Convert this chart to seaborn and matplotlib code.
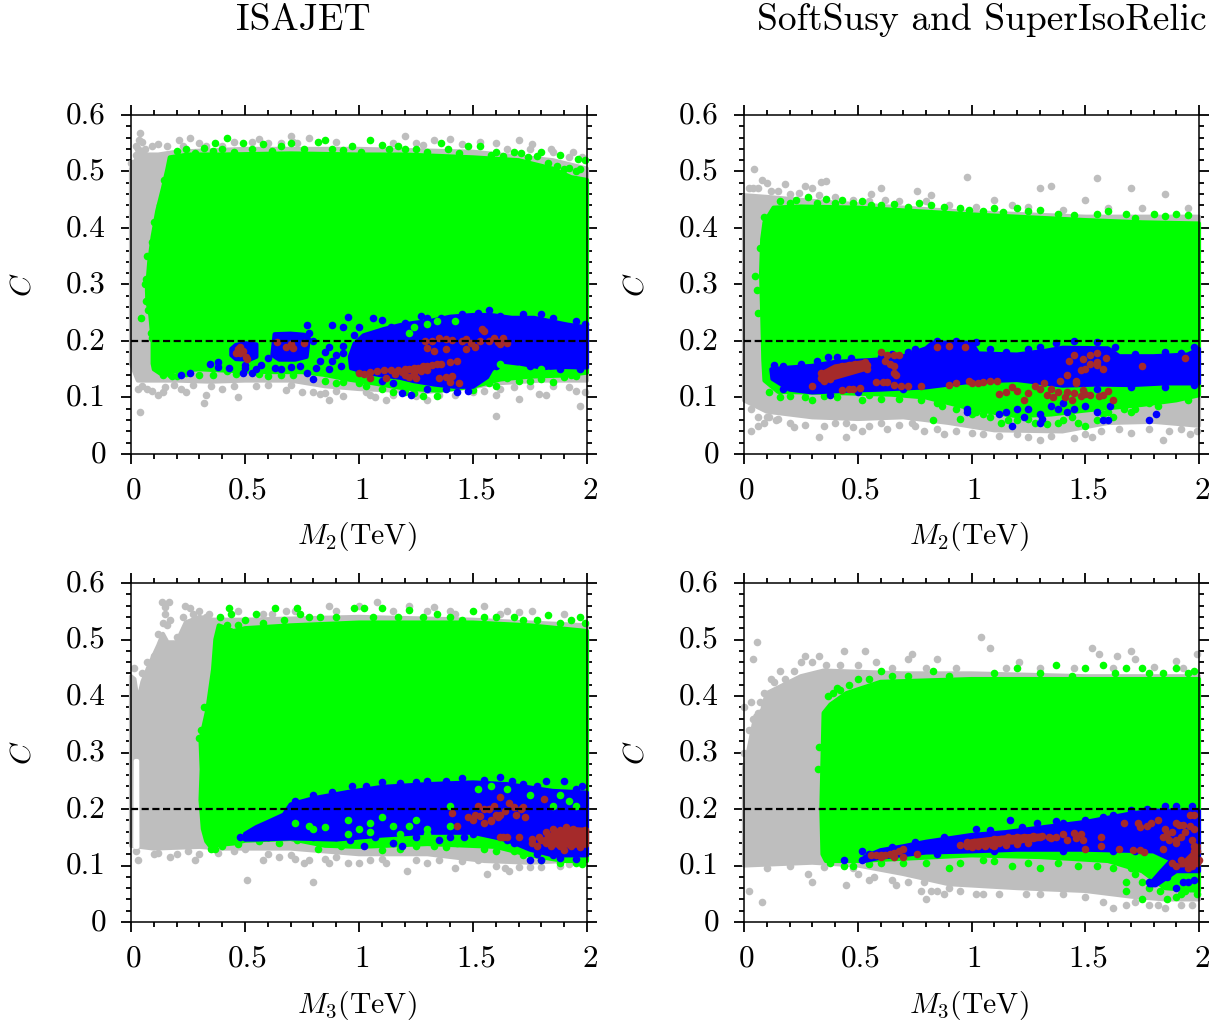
import matplotlib
matplotlib.use("Agg")
import matplotlib.pyplot as plt
from matplotlib.ticker import MultipleLocator
from matplotlib.transforms import ScaledTranslation
import pandas as pd
import seaborn as sns

# ---------- values: envelopes of the dense clouds (M, C) ----------
P1_GRAY = [(0,.16),(.01,.15),(.03,.13),(.1,.13),(.2,.13),(.35,.128),(.5,.13),(.7,.13),(.85,.12),(1.0,.115),(1.3,.11),(1.5,.118),(1.6,.125),(1.8,.13),(2,.13),
           (2,.505),(1.85,.52),(1.5,.535),(1,.54),(.5,.54),(.2,.535),(.12,.53),(.07,.53),(.04,.535),(.02,.52),(.0,.505)]
P1_GREEN = [(.095,.16),(.1,.15),(.13,.142),(.2,.147),(.3,.15),(.45,.147),(.6,.145),(.75,.145),(.85,.14),(.95,.132),(1.05,.126),(1.2,.116),(1.35,.112),(1.5,.119),(1.62,.132),(1.75,.137),(1.9,.139),(2,.144),
            (2,.485),(1.93,.49),(1.85,.505),(1.7,.52),(1.5,.525),(1.2,.53),(1,.53),(.7,.532),(.4,.53),(.25,.53),(.17,.525),
            (.16,.505),(.14,.47),(.115,.43),(.095,.385),(.08,.34),(.07,.29),(.072,.27),(.085,.245),(.095,.2)]
P1_BLUE = [
    [(.44,.175),(.46,.168),(.52,.167),(.55,.172),(.55,.194),(.5,.196),(.46,.193),(.44,.186)],
    [(.62,.175),(.65,.167),(.72,.167),(.77,.172),(.78,.205),(.76,.211),(.7,.213),(.63,.212)],
    [(.96,.172),(.98,.195),(1.02,.21),(1.108,.221),(1.18,.228),(1.24,.232),(1.32,.236),(1.40,.243),(1.5,.246),(1.577,.246),(1.67,.241),(1.767,.241),(1.914,.229),(2,.224),
     (2,.153),(1.9,.154),(1.81,.152),(1.72,.159),(1.62,.164),(1.58,.149),(1.562,.136),(1.5,.119),(1.42,.119),(1.33,.123),(1.24,.129),(1.18,.135),(1.1,.139),(1.035,.144),(.965,.152)],
]
P1_GREEN_EDGE = [(.2,.537),(.24,.54),(.28,.532),(.32,.542),(.36,.536),(.4,.54),(.45,.534),(.53,.54),(.58,.548),(.62,.537),(.66,.546),(.76,.54),(.88,.54),(.93,.538),(.97,.545),(1.01,.535),(1.13,.54),(1.17,.545),(1.25,.54),(1.3,.535),(1.39,.54),(1.44,.532),(1.58,.53),(1.63,.527),(1.74,.525),(1.78,.527),(1.83,.515),(1.87,.51),(1.9,.505),(1.95,.5),(1.97,.505),
                 (.17,.142),(.2,.138),(.24,.143),(.3,.14),(.36,.14),(.42,.147),(.46,.142),(.56,.142),(.6,.138),(.66,.14),(.71,.14),(.85,.13),(.9,.125),(.93,.127),(1.0,.125),(1.03,.12),(1.1,.115),(1.2,.11),(1.24,.108),(1.5,.113),(1.57,.125),(1.7,.13),(1.8,.133),(1.85,.128),(1.95,.138),
                 (.07,.35),(.09,.375),(.1,.41),(.125,.44),(.145,.485),(.06,.3),(.065,.31),(.075,.255),(.088,.215)]
P1_GRAY_EDGE = [(.0,.515),(.02,.53),(.03,.54),(.06,.54),(.09,.545),(.12,.548),(.16,.545),(.23,.545),(.3,.55),(.4,.545),(.45,.552),(.53,.553),(.6,.55),(.73,.55),(.9,.552),(1.15,.55),(1.28,.547),(1.45,.548),(1.65,.54),(1.75,.54),(1.85,.535),(1.92,.525),
                (.03,.115),(.05,.12),(.07,.115),(.09,.112),(.15,.118),(.19,.122),(.22,.115),(.27,.122),(.35,.12),(.4,.115),(.45,.12),(.55,.12),(.6,.122),(.7,.122),(.75,.11),(.8,.11),(.83,.107),(.9,.112),(1.03,.11),(1.15,.105),(1.25,.103),(1.35,.105),(1.42,.105),(1.5,.11),(1.55,.112),(1.62,.115),(1.68,.118),(1.75,.12),(1.85,.12),(1.92,.118)]
P2_GRAY = [(0,.095),(.05,.085),(.1,.075),(.3,.065),(.5,.062),(.7,.065),(.9,.055),(1.1,.042),(1.4,.04),(1.6,.055),(1.8,.057),(2,.05),
           (2,.42),(1.5,.42),(1,.428),(.7,.436),(.3,.448),(.1,.455),(0,.458)]
P2_GREEN = [(.085,.166),(.09,.13),(.15,.11),(.4,.108),(.65,.105),(.8,.1),(.9,.09),(1.0,.08),(1.1,.073),(1.2,.067),(1.35,.07),(1.5,.077),(1.75,.087),(1.9,.095),(2,.104),
            (2,.408),(1.75,.41),(1.5,.414),(1,.424),(.5,.436),(.25,.438),(.13,.436),(.09,.41),(.08,.38),(.075,.32),(.08,.25)]
P2_BLUE = [
    [(.12,.15),(.2,.153),(.3,.156),(.4,.163),(.55,.166),(.68,.17),(.8,.187),(.83,.197),(1.0,.197),(1.03,.178),(1.2,.176),(1.33,.183),(1.4,.188),(1.6,.187),(1.65,.173),(1.8,.173),(1.95,.176),(2,.186),
     (2,.125),(1.85,.125),(1.7,.122),(1.55,.123),(1.4,.121),(1.2,.131),(1.0,.128),(.8,.118),(.6,.114),(.45,.112),(.3,.109),(.2,.114),(.125,.133)],
]
P2_BROWN_BLOBS = [[(.34,.13),(.4,.135),(.53,.15),(.53,.163),(.48,.16),(.4,.155),(.34,.142)]]
P2_GREEN_EDGE = [(.16,.447),(.23,.45),(.32,.445),(.43,.45),(.52,.448),(.6,.44),(.66,.442),(.72,.437),(.77,.445),(.88,.438),(.95,.435),(1.05,.43),(1.1,.435),(1.25,.43),(1.38,.425),(1.45,.423),(1.68,.425),(1.72,.418),(1.85,.422),(1.95,.423),
                 (.11,.11),(.16,.1),(.2,.102),(.35,.102),(.41,.1),(.6,.098),(.68,.098),(.78,.095),(.87,.085),(.93,.08),(1.0,.07),(1.08,.065),(1.16,.06),(1.25,.062),(1.4,.06),(1.44,.065),(1.58,.07),(1.72,.08),(1.82,.085),(1.95,.095)]
P2_GRAY_EDGE = [(.02,.47),(.06,.47),(.12,.465),(.2,.46),(.24,.462),(.33,.458),(.4,.455),(.48,.45),(.55,.448),(.62,.45),(.68,.447),(.8,.447),(.9,.44),(1.02,.437),(1.18,.44),(1.25,.438),(1.4,.432),(1.6,.435),(1.75,.435),(1.95,.435),
                (.03,.08),(.06,.065),(.11,.065),(.14,.06),(.2,.055),(.27,.052),(.35,.05),(.4,.055),(.48,.048),(.55,.05),(.6,.055),(.68,.052),(.74,.055),(.85,.045),(.93,.04),(1.0,.038),(1.05,.035),(1.12,.032),(1.2,.035),(1.35,.032),(1.5,.035),(1.57,.04),(1.65,.045),(1.78,.045),(1.87,.04),(1.92,.045)]
P3_GRAY = [(0,.135),(.1,.13),(.3,.133),(.4,.13),(.7,.13),(1.0,.12),(1.3,.12),(1.55,.108),(1.75,.105),(2,.11),
           (2,.525),(1.5,.535),(1,.54),(.5,.535),(.36,.535),(.3,.54),(.24,.53),(.2,.495),(.16,.495),(.14,.51),(.12,.49),(.08,.455),(.05,.425),(.03,.39),(.015,.43),(0,.435)]
P3_GAP = [(.019,.133),(.028,.133),(.027,.285),(.021,.285)]
P3_GREEN = [(.345,.135),(.33,.143),(.315,.165),(.305,.216),(.31,.27),(.305,.323),(.315,.34),(.335,.376),(.36,.447),(.37,.5),(.385,.525),(.45,.515),(.5,.52),(.7,.525),(1,.53),(1.3,.53),(1.5,.53),(1.75,.525),(2,.515),
            (2,.108),(1.9,.108),(1.75,.118),(1.6,.133),(1.3,.138),(1.0,.133),(.85,.135),(.7,.147),(.5,.144),(.45,.139)]
P3_BLUE = [
    [(.67,.19),(.7,.208),(.8,.219),(.95,.23),(1.1,.239),(1.3,.244),(1.5,.247),(1.65,.244),(1.85,.232),(2,.229),
     (2,.118),(1.85,.118),(1.75,.128),(1.65,.145),(1.5,.158),(1.3,.158),(1.1,.153),(.9,.146),(.7,.148),(.55,.146),(.5,.146),(.5,.156),(.55,.168),(.6,.177)],
]
P3_BROWN_BLOBS = [[(1.8,.142),(1.87,.135),(2,.135),(2,.163),(1.92,.165),(1.86,.16)]]
P3_GREEN_EDGE = [(.39,.54),(.42,.525),(.47,.525),(.5,.535),(.58,.53),(.67,.535),(.78,.54),(.83,.54),(.9,.54),(1.06,.54),(1.17,.54),(1.28,.54),(1.45,.535),(1.6,.54),(1.72,.535),(1.78,.535),(1.88,.53),(1.93,.535),(1.99,.53),
                 (.37,.13),(.4,.135),(.47,.138),(.56,.143),(.65,.14),(.82,.13),(.92,.135),(1.1,.128),(1.18,.13),(1.33,.135),(1.38,.132),(1.55,.13),(1.6,.125),(1.72,.118),(1.8,.11),(1.88,.105)]
P3_GRAY_EDGE = [(.1,.47),(.12,.51),(.14,.53),(.15,.545),(.17,.535),(.16,.525),(.2,.505),(.23,.54),(.25,.53),(.27,.545),(.33,.54),(.07,.46),(.05,.44),(.02,.4),(.015,.45),
                (.47,.55),(.58,.545),(.68,.55),(.9,.55),(1.15,.55),(1.3,.55),(1.42,.545),(1.65,.55),(1.7,.548),(1.9,.545),
                (.02,.125),(.12,.122),(.2,.12),(.25,.125),(.38,.122),(.45,.125),(.6,.12),(.65,.115),(.72,.112),(.78,.11),(.85,.112),(.95,.105),(1.05,.11),(1.12,.105),(1.25,.11),(1.35,.11),(1.45,.108),(1.6,.1),(1.7,.098),(1.75,.098),(1.92,.102)]
P4_GRAY = [(0,.1),(.3,.105),(.5,.1),(.7,.085),(.9,.067),(1.2,.06),(1.5,.055),(1.7,.045),(1.85,.04),(2,.04),
           (2,.435),(1.5,.435),(1,.44),(.7,.44),(.35,.445),(.25,.435),(.15,.415),(.1,.405),(.08,.375),(.05,.365),(.03,.325),(.01,.285),(0,.275)]
P4_GREEN = [(.345,.12),(.36,.108),(.5,.108),(.7,.112),(1.0,.118),(1.3,.115),(1.6,.108),(1.75,.09),(1.85,.06),(2,.055),
            (2,.43),(1.5,.43),(1,.43),(.6,.425),(.45,.405),(.38,.385),(.35,.37),(.34,.2)]
P4_BLUE = [
    [(.53,.115),(.6,.127),(.7,.134),(.8,.142),(1.0,.154),(1.15,.159),(1.3,.167),(1.5,.177),(1.7,.192),(1.8,.197),(2,.197),
     (2,.09),(1.9,.09),(1.81,.065),(1.78,.065),(1.83,.088),(1.88,.11),(1.8,.125),(1.5,.128),(1.2,.128),(1.0,.125),(.8,.123),(.6,.114),(.53,.108)],
]
P4_BROWN_BLOBS = [[(.97,.136),(1.1,.137),(1.3,.147),(1.3,.153),(1.15,.15),(1.0,.143)],[(1.92,.1),(1.98,.103),(2,.135),(1.97,.12)]]
P4_GREEN_EDGE = [(.39,.405),(.42,.41),(.46,.42),(.55,.43),(.65,.435),(.72,.435),(.9,.435),(1.1,.44),(1.3,.44),(1.44,.435),(1.63,.44),(1.78,.44),(1.84,.44),(1.95,.44),
                 (.38,.105),(.48,.1),(.55,.102),(.7,.105),(.8,.105),(.95,.105),(1.05,.11),(1.1,.108),(1.25,.105),(1.38,.105),(1.55,.1),(1.62,.095),(1.72,.085),(1.78,.06),(1.9,.045),(1.94,.055)]
P4_GRAY_EDGE = [(.0,.3),(.02,.34),(.04,.36),(.07,.39),(.09,.405),(.13,.425),(.18,.43),(.22,.445),(.3,.46),(.36,.455),(.42,.455),(.5,.455),(.58,.46),(.65,.45),(.8,.45),(.93,.45),(1.15,.45),(1.3,.45),(1.45,.45),(1.62,.45),(1.8,.452),(1.93,.45),
                (.1,.095),(.2,.1),(.35,.098),(.5,.085),(.57,.08),(.65,.075),(.72,.07),(.78,.055),(.85,.055),(.95,.055),(1.05,.05),(1.12,.05),(1.3,.05),(1.4,.05),(1.5,.045),(1.58,.035),(1.72,.035),(1.78,.03),(1.92,.03)]

# ---------- values: individually visible points ----------
P1_GRAY_PTS = [(.04,.568),(.035,.555),(.05,.552),(.02,.545),(.21,.555),(.26,.56),(.33,.545),(.56,.558),(.7,.562),(.71,.552),(.78,.56),(.66,.55),(1.2,.562),(1.25,.55),(1.33,.555),(1.4,.558),(1.53,.553),(1.6,.55),(1.7,.555),(1.76,.548),(1.84,.54),(1.94,.535),(1.98,.525),
               (.04,.075),(.32,.09),(.12,.104),(.24,.11),(.47,.1),(.87,.095),(1.12,.095),(1.3,.095),(1.7,.097),(1.6,.105),(1.79,.107),(1.82,.105),(1.95,.112),(1.99,.11),(1.97,.085),(1.6,.068),(1.07,.1),(.68,.113),(.85,.108),(.93,.103),(1.05,.105),(.33,.105),(.14,.11)]
P1_GREEN_PTS = [(.42,.56),(.37,.55),(.49,.55),(.7,.55),(.82,.552),(.85,.555),(1.05,.555),(1.1,.547),(1.2,.54),(1.36,.55),(1.48,.545),(1.53,.545),(1.6,.535),(1.68,.535),(1.71,.533),(1.8,.535),(1.88,.53),(1.96,.522),(1.99,.52),(1.92,.507),
                (.045,.24),(.065,.27),(.08,.28),(.09,.205),(1.15,.11),(1.28,.102),(1.34,.102),(1.6,.12),(1.65,.135),(1.75,.13),(1.9,.137),(.14,.14),(.18,.138)]
P1_BLUE_PTS = [(.22,.139),(.26,.143),(.345,.16),(.38,.154),(.38,.162),(.43,.153),(.5,.152),(.5,.158),(.55,.15),(.57,.158),(.53,.143),(.49,.143),(.6,.17),(.63,.152),(.66,.15),(.7,.154),(.74,.155),(.77,.143),(.81,.152),(.8,.133),(.87,.15),(.88,.165),(.83,.165),(.85,.18),(.87,.19),(.92,.155),(.93,.178),(.9,.175),(.93,.192),(.88,.228),(.95,.243),(.93,.224),(1.0,.224),(1.06,.24),(1.1,.238),(1.03,.205),(.98,.21),(.8,.2),(.77,.228),(.78,.215),(1.19,.108),(1.23,.105),(1.43,.11),
               (1.27,.245),(1.3,.24),(1.36,.24),(1.45,.247),(1.52,.25),(1.57,.255),(1.62,.245),(1.72,.247),(1.8,.247),(1.85,.24),(1.95,.235),(1.99,.23),(1.14,.225),(1.2,.232),(1.0,.145),(1.1,.13),(1.15,.125),(1.3,.115),(1.38,.115),(1.48,.112),(1.6,.155),(1.75,.155),(1.88,.15),(1.97,.15)]
P1_GREEN_OVER = [(1.24,.225),(1.22,.215),(1.3,.23),(1.34,.235),(1.42,.235),(1.62,.16),(1.7,.15),(1.8,.15),(1.83,.143),(1.93,.14)]
P1_BROWN = [(.47,.185),(.48,.19),(.46,.179),(.49,.183),(.505,.172),(.51,.168),(.48,.178),(.64,.199),(.68,.189),(.70,.195),(.71,.187),(.76,.197),
            (1.0,.143),(1.02,.141),(1.05,.145),(1.08,.147),(1.11,.149),(1.14,.149),(1.17,.148),(1.2,.150),(1.22,.151),(1.24,.153),(1.26,.153),(1.28,.155),(1.3,.156),(1.32,.158),(1.34,.159),(1.36,.160),(1.4,.162),(1.43,.165),
            (1.2,.140),(1.22,.137),(1.25,.135),(1.12,.135),(1.05,.134),(1.24,.143),(1.27,.147),(1.3,.149),(1.16,.142),(1.19,.145),(1.35,.135),(1.38,.137),(1.41,.138),(1.40,.128),(1.44,.125),
            (1.29,.2),(1.32,.2),(1.35,.205),(1.38,.203),(1.41,.201),(1.30,.188),(1.33,.182),(1.38,.185),(1.45,.2),(1.47,.203),(1.49,.196),(1.47,.185),(1.51,.19),(1.53,.2),(1.54,.222),(1.55,.217),(1.57,.2),(1.59,.205),(1.61,.198),(1.62,.195),(1.63,.205),(1.65,.197)]

P2_GRAY_PTS = [(.045,.505),(.04,.47),(.08,.485),(.1,.48),(.18,.478),(.27,.475),(.3,.47),(.34,.482),(.36,.483),(.15,.465),(.6,.47),(.76,.465),(.82,.458),(.98,.49),(1.1,.45),(1.3,.47),(1.35,.475),(1.55,.488),(1.7,.47),(1.85,.46),(1.5,.45),(.56,.46),
               (.03,.04),(.06,.05),(.09,.055),(.22,.048),(.33,.03),(.45,.03),(.52,.04),(.79,.04),(.88,.035),(1.3,.025),(1.25,.03),(1.45,.028),(1.53,.03),(1.7,.038),(1.84,.025),(1.96,.035),(1.99,.04),(.63,.045),(.75,.05),(.1,.065),(.15,.062),(.45,.055)]
P2_GREEN_PTS = [(.07,.365),(.055,.29),(.05,.315),(.06,.25),(.09,.42),(.2,.445),(.28,.455),(.36,.452),(.4,.445),(.48,.445),(.56,.44),(.82,.44),(.99,.432),(1.14,.428),(1.2,.435),(1.3,.432),(1.55,.425),(1.6,.43),(1.8,.425),(1.9,.425),
                (.55,.105),(.52,.095),(.3,.095),(.27,.1),(.85,.09),(1.02,.075),(1.05,.07),(1.13,.055),(1.2,.06),(1.28,.055),(1.33,.053),(1.38,.055),(1.47,.055),(1.55,.06),(1.62,.065),(1.6,.075),(1.7,.075),(1.78,.09),(1.67,.08),(1.5,.05),(.83,.06),(.95,.062)]
P2_BLUE_PTS = [(.98,.075),(1.12,.07),(1.15,.075),(1.18,.05),(1.2,.08),(1.23,.065),(1.25,.08),(1.3,.07),(1.31,.062),(1.3,.055),(1.35,.085),(1.38,.08),(1.4,.09),(1.42,.075),(1.45,.08),(1.5,.085),(1.55,.075),(1.58,.06),(1.6,.06),(1.61,.085),(1.78,.06),(1.81,.07),(.98,.08),(.81,.18),
               (.13,.157),(.17,.155),(.25,.16),(.32,.165),(.37,.172),(.41,.172),(.47,.17),(.6,.172),(.65,.177),(.72,.18),(.75,.185),(.85,.2),(.93,.2),(1.02,.198),(1.08,.185),(1.15,.18),(1.25,.185),(1.3,.19),(1.37,.197),(1.45,.2),(1.55,.198),(1.63,.19),(1.72,.177),(1.85,.18),(1.92,.178),(1.98,.19),
               (.17,.115),(.3,.115),(.38,.105),(.5,.11),(.7,.115),(.9,.125),(1.55,.115),(1.7,.118),(1.85,.118),(1.98,.122)]
P2_BROWN = [(.34,.135),(.36,.137),(.38,.14),(.4,.143),(.42,.147),(.44,.15),(.46,.15),(.48,.153),(.5,.155),(.52,.155),(.54,.157),(.34,.143),(.37,.146),(.4,.15),(.43,.155),(.46,.158),(.49,.16),(.52,.16),(.35,.13),(.38,.132),(.54,.15),(.53,.163),
            (.3,.12),(.43,.113),(.46,.115),(.48,.115),(.51,.116),(.58,.128),(.61,.128),(.66,.143),(.6,.18),(.63,.175),(.66,.175),(.68,.175),(.62,.165),(.64,.16),(.66,.155),(.67,.14),(.63,.127),(.66,.122),(.69,.12),(.72,.121),(.78,.12),
            (.9,.122),(.93,.125),(.99,.13),(1.0,.125),(1.03,.125),(1.05,.128),(1.08,.13),(.85,.19),(.9,.192),(.97,.19),(1.11,.13),(1.12,.107),(1.15,.11),(1.18,.118),(1.2,.112),(1.23,.095),(1.25,.108),(1.28,.12),(1.32,.125),(1.35,.115),(1.38,.11),(1.42,.11),(1.45,.108),(1.48,.103),(1.5,.106),(1.52,.105),(1.56,.102),(1.58,.105),(1.6,.112),
            (1.3,.115),(1.33,.105),(1.36,.1),(1.41,.1),(1.44,.095),(1.46,.125),(1.49,.113),(1.39,.13),(1.42,.14),(1.46,.13),(1.5,.15),(1.48,.148),(1.52,.16),(1.55,.163),(1.59,.17),(1.58,.15),(1.55,.158),(1.43,.165),(1.45,.175),(1.49,.168),(1.52,.175),(1.55,.178),(1.75,.155),(1.94,.17),(1.62,.095)]

P3_GRAY_PTS = [(.135,.567),(.165,.567),(.15,.558),(.235,.56),(.26,.555),(.3,.55),(.34,.545),(.87,.56),(1.0,.56),(1.08,.567),(1.22,.56),(1.33,.558),(1.55,.56),(1.76,.55),(1.62,.545),(1.4,.55),(.62,.545),(.72,.55),
               (.03,.11),(.1,.12),(.17,.115),(.28,.11),(.3,.12),(.5,.13),(.58,.11),(.51,.075),(.8,.07),(.76,.105),(.87,.105),(1.21,.09),(1.3,.105),(1.42,.095),(1.52,.11),(1.56,.085),(1.64,.095),(1.66,.09),(1.8,.098),(1.88,.1),(1.0,.105),(.9,.115),(.7,.118),(1.1,.112)]
P3_GREEN_PTS = [(.43,.555),(.44,.545),(.55,.545),(.63,.555),(.73,.555),(.74,.545),(.98,.555),(1.02,.555),(1.1,.555),(1.22,.553),(1.34,.545),(1.4,.54),(1.5,.55),(1.55,.54),(1.83,.543),(1.97,.54),(1.68,.54),(.32,.38),(.305,.34),(.3,.325),(.35,.13),(.42,.145),(.73,.145),(1.03,.14),(1.25,.135),(1.43,.14),(1.5,.145),(1.68,.125),(1.95,.105),(1.98,.102)]
P3_BLUE_PTS = [(.48,.15),(.52,.158),(.55,.163),(.58,.17),(.62,.167),(.66,.175),(.72,.16),(.8,.15),(.9,.15),(.96,.145),(1.02,.135),(1.07,.15),(1.15,.14),(1.19,.135),(1.25,.15),(1.35,.145),(1.4,.15),(1.46,.15),(1.5,.155),(1.65,.145),(1.75,.11),(1.8,.11),(1.95,.112),(.97,.24),(1.1,.248),(1.3,.25),(1.45,.255),(1.62,.257),(1.67,.25),(1.82,.25),(1.9,.25),(1.98,.24),
               (.72,.215),(.8,.225),(.88,.23),(1.03,.24),(1.18,.246),(1.25,.248),(1.38,.25),(1.55,.252),(1.72,.245),(1.78,.24),(1.95,.235),(1.85,.118),(1.78,.12),(1.68,.14),(.5,.15),(.6,.15),(1.88,.113)]
P3_GREEN_OVER = [(.85,.168),(.95,.18),(1.05,.175),(1.1,.185),(1.15,.17),(1.22,.17),(1.3,.165),(1.25,.18),(1.4,.17),(.78,.17),(.95,.155),(1.05,.16),(1.58,.24),(1.65,.235),(1.75,.225),(1.88,.225),(1.92,.215),(1.85,.205),(1.95,.205),(1.4,.205),(1.52,.235),(.72,.175),(.8,.165),(1.0,.165),(1.18,.155),(1.3,.155)]
P3_BROWN = [(1.76,.147),(1.79,.15),(1.82,.16),(1.85,.165),(1.88,.163),(1.91,.168),(1.94,.165),(1.97,.16),(1.99,.162),(1.76,.14),(1.8,.145),(1.83,.15),(1.86,.155),(1.89,.155),(1.92,.155),(1.95,.155),(1.98,.15),(1.82,.14),(1.86,.145),(1.89,.145),(1.92,.145),(1.95,.145),(1.98,.14),(1.7,.15),(1.65,.15),(1.62,.15),(1.63,.15),(1.78,.135),(1.84,.135),(1.88,.135),(1.93,.135),(1.97,.133),(1.9,.127),
            (1.41,.193),(1.43,.17),(1.48,.185),(1.5,.18),(1.51,.19),(1.53,.188),(1.55,.2),(1.57,.2),(1.59,.205),(1.52,.205),(1.55,.175),(1.58,.178),(1.6,.19),(1.61,.185),(1.64,.196),(1.66,.21),(1.68,.203),(1.69,.19),(1.71,.2),(1.72,.203),(1.73,.185),(1.62,.222),(1.58,.18),(1.62,.19),(1.81,.218)]

P4_GRAY_PTS = [(.056,.495),(.04,.466),(.0,.38),(.03,.39),(.06,.37),(.1,.39),(.12,.43),(.16,.445),(.25,.46),(.27,.47),(.33,.47),(.44,.48),(.53,.48),(.74,.475),(.72,.466),(1.04,.505),(1.08,.485),(1.21,.46),(1.53,.485),(1.56,.475),(1.64,.47),(1.7,.48),(1.72,.465),(1.9,.462),(1.99,.475),(.85,.465),
               (.02,.055),(.08,.035),(.28,.085),(.3,.07),(.48,.095),(.55,.075),(.79,.07),(.82,.055),(.88,.05),(.9,.06),(1.02,.05),(1.24,.05),(1.62,.025),(1.68,.03),(1.82,.03),(1.85,.025),(1.97,.03),(.67,.065),(.8,.04),(.45,.065)]
P4_GREEN_PTS = [(.41,.415),(.37,.4),(.5,.43),(.6,.445),(.83,.445),(1.2,.45),(1.37,.455),(1.5,.45),(1.58,.455),(1.68,.45),(1.75,.45),(1.9,.45),(1.98,.445),(.33,.31),(.325,.27),
                (.44,.1),(.6,.105),(.9,.095),(1.18,.1),(1.3,.095),(1.47,.1),(1.68,.07),(1.7,.095),(1.75,.07),(1.68,.055),(1.83,.055),(1.92,.05),(1.96,.06),(1.99,.05),(1.75,.04),(1.86,.04)]
P4_BLUE_PTS = [(.44,.11),(.52,.125),(1.17,.18),(1.29,.175),(1.62,.19),(1.77,.2),(1.85,.205),(1.97,.205),(1.9,.06),(1.93,.07),(1.98,.075),(1.95,.07),(1.78,.07),(1.86,.08),(.52,.11),(.55,.12),(1.02,.165),(1.37,.178),
               (.65,.132),(.75,.142),(.88,.15),(1.08,.162),(1.22,.168),(1.4,.176),(1.5,.18),(1.58,.185),(1.7,.198),(1.9,.205),(.85,.12),(1.1,.125),(1.4,.125),(1.62,.125),(1.72,.125)]
P4_BROWN = [(.56,.118),(.58,.118),(.6,.119),(.62,.118),(.64,.12),(.66,.122),(.68,.125),(.66,.115),(.7,.115),(.76,.12),(.6,.115),(.7,.13),
            (.95,.137),(.98,.135),(1.0,.133),(1.03,.135),(1.06,.135),(1.09,.137),(1.12,.14),(1.15,.143),(1.18,.145),(1.21,.145),(1.24,.148),(1.27,.148),(1.3,.15),(1.34,.15),(1.37,.15),(1.4,.155),(1.45,.158),(1.48,.155),(1.49,.145),(1.46,.148),(1.42,.145),
            (.98,.142),(1.01,.141),(1.04,.142),(1.07,.143),(1.1,.147),(1.13,.147),(1.16,.15),(1.2,.151),(1.23,.15),(1.27,.153),(1.31,.153),(1.35,.148),(1.1,.135),(1.15,.137),(1.2,.138),(1.25,.14),
            (1.5,.13),(1.57,.135),(1.65,.13),(1.71,.128),(1.74,.128),(1.76,.124),(1.57,.15),(1.67,.175),(1.73,.175),(1.77,.17),(1.74,.168),(1.79,.175),(1.82,.18),(1.84,.15),(1.86,.155),(1.9,.145),(1.88,.16),(1.91,.172),(1.9,.175),(1.93,.172),(1.96,.17),(1.98,.165),(1.96,.19),(1.98,.19),(1.84,.13),(1.9,.14),(1.94,.16),(1.97,.145),(1.87,.145),(1.92,.15),(1.85,.165),
            (1.9,.1),(1.93,.105),(1.96,.11),(1.98,.115),(1.99,.125),(1.95,.095),(1.92,.11),(1.88,.105),(1.97,.1),(1.99,.105),(2.0,.11),(1.98,.135),(1.98,.125),(1.95,.105)]

XTICKS = [0, .5, 1, 1.5, 2]
XLABELS = ['0', '0.5', '1', '1.5', '2']
YTICKS = [0, .1, .2, .3, .4, .5, .6]
YLABELS = ['0', '0.1', '0.2', '0.3', '0.4', '0.5', '0.6']
TITLES = ['ISAJET', 'SoftSusy and SuperIsoRelic']
C_LIMIT = 0.2

GRAY, GREEN, BLUE, BROWN = '#bebebe', '#00ff00', '#0000ff', '#a52a2a'

sns.set_style('ticks')
plt.rcParams.update({
    'font.family': ['cmr10', 'DejaVu Serif'],
    'mathtext.fontset': 'cm',
    'axes.unicode_minus': False,
    'axes.formatter.use_mathtext': True,
    'font.size': 22.5,
    'text.color': 'black',
    'axes.labelcolor': 'black',
    'xtick.color': 'black',
    'ytick.color': 'black',
})

W, H = 1227, 1027
fig = plt.figure(figsize=(W / 100, H / 100), dpi=100, facecolor='white')


def region(ax, poly, color, z):
    xs, ys = zip(*poly)
    ax.fill(xs, ys, facecolor=color, edgecolor=color, lw=3, joinstyle='round', zorder=z, clip_on=False)


def dots(ax, pts, color, z):
    df = pd.DataFrame(pts, columns=['M', 'C'])
    sns.scatterplot(data=df, x='M', y='C', color=color, s=30, linewidth=0, zorder=z, clip_on=False, ax=ax, legend=False)


def panel(box, xlabel, gray, green, blue, gray_pts, green_pts, blue_pts, brown_pts, over=None, gap=None, blobs=None):
    l, t, r, b = box
    ax = fig.add_axes([l / W, 1 - b / H, (r - l) / W, (b - t) / H])
    region(ax, gray, GRAY, 1.0)
    dots(ax, gray_pts, GRAY, 1.05)
    if gap:
        region(ax, gap, 'white', 1.07)
    region(ax, green, GREEN, 1.1)
    dots(ax, green_pts, GREEN, 1.15)
    for poly in blue:
        region(ax, poly, BLUE, 1.2)
    dots(ax, blue_pts, BLUE, 1.25)
    if over:
        dots(ax, over, GREEN, 1.3)
    for poly in blobs or []:
        region(ax, poly, BROWN, 1.35)
    dots(ax, brown_pts, BROWN, 1.4)
    ax.axhline(C_LIMIT, color='black', lw=1.6, dashes=(3.2, 1.6), zorder=2.2, clip_on=False)

    ax.set_xlim(0, 2)
    ax.set_ylim(0, 0.6)
    ax.set_xticks(XTICKS)
    ax.set_xticklabels(XLABELS)
    ax.set_yticks(YTICKS)
    ax.set_yticklabels(YLABELS)
    ax.xaxis.set_minor_locator(MultipleLocator(0.1))
    ax.yaxis.set_minor_locator(MultipleLocator(0.02))
    ax.tick_params(which='major', direction='out', length=7.5, width=1.3, top=True, right=True, pad=10.5)
    ax.tick_params(which='minor', direction='out', length=3.8, width=1.3, top=True, right=True)
    ax.tick_params(axis='x', which='major', pad=9)
    for s in ax.spines.values():
        s.set_linewidth(1.1)
        s.set_color('black')
        s.set_zorder(3)
    ax.set_xlabel(xlabel, fontsize=21.3, va='center')
    ax.set_ylabel('$C$', fontsize=21.3, va='center')
    ax.xaxis.set_label_coords(0.495, -(537 - 454) / 339)
    ax.yaxis.set_label_coords((23 - 131) / 456, 0.5)
    xshift = ScaledTranslation(3 / 100, 0, fig.dpi_scale_trans)
    yshift = ScaledTranslation(0, 2.5 / 100, fig.dpi_scale_trans)
    for lab in ax.get_xticklabels():
        lab.set_transform(lab.get_transform() + xshift)
    for lab in ax.get_yticklabels():
        lab.set_transform(lab.get_transform() + yshift)
    return ax


panel((131, 115, 587, 454), '$M_2$(TeV)', P1_GRAY, P1_GREEN, P1_BLUE, P1_GRAY_PTS + P1_GRAY_EDGE, P1_GREEN_PTS + P1_GREEN_EDGE, P1_BLUE_PTS, P1_BROWN, over=P1_GREEN_OVER)
panel((744, 115, 1199, 454), '$M_2$(TeV)', P2_GRAY, P2_GREEN, P2_BLUE, P2_GRAY_PTS + P2_GRAY_EDGE, P2_GREEN_PTS + P2_GREEN_EDGE, P2_BLUE_PTS, P2_BROWN, blobs=P2_BROWN_BLOBS)
panel((131, 583, 587, 922), '$M_3$(TeV)', P3_GRAY, P3_GREEN, P3_BLUE, P3_GRAY_PTS + P3_GRAY_EDGE, P3_GREEN_PTS + P3_GREEN_EDGE, P3_BLUE_PTS, P3_BROWN, over=P3_GREEN_OVER, gap=P3_GAP, blobs=P3_BROWN_BLOBS)
panel((744, 583, 1199, 922), '$M_3$(TeV)', P4_GRAY, P4_GREEN, P4_BLUE, P4_GRAY_PTS + P4_GRAY_EDGE, P4_GREEN_PTS + P4_GREEN_EDGE, P4_BLUE_PTS, P4_BROWN, blobs=P4_BROWN_BLOBS)

fig.text(303 / W, 1 - 20 / H, TITLES[0], ha='center', va='center', fontsize=27)
fig.text(982 / W, 1 - 20 / H, TITLES[1], ha='center', va='center', fontsize=27)

fig.savefig('out.png', dpi=100, facecolor='white')
